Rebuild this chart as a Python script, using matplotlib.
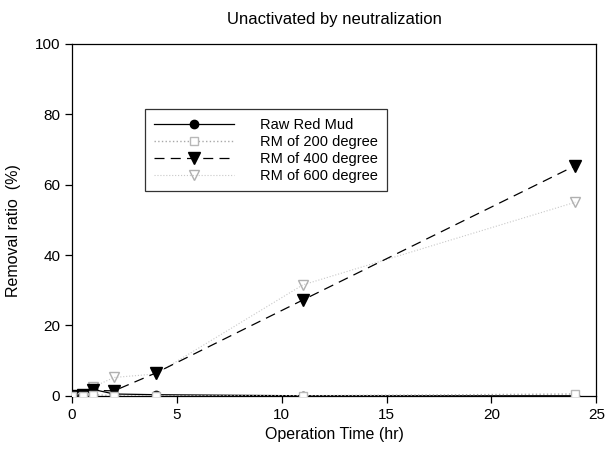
import numpy as np
import matplotlib
matplotlib.use('Agg')
import matplotlib.pyplot as plt

plt.rcParams.update({
    'font.family': 'sans-serif', 'font.sans-serif': ['Liberation Sans', 'DejaVu Sans'],
    'font.size': 10, 'axes.linewidth': 0.9,
})

# ── Removal ratio (%) vs operation time (hr) ──
time_hr = [0, 0.5, 1, 2, 4, 11, 24]
raw_red_mud = [0, 0.2, 1.8, 0.5, 0.3, 0, 0]
rm_200 = [0, 0, 0.3, 0, 0, 0, 0.5]
rm_400 = [0, 0.3, 1.5, 1.4, 6.5, 27.2, 65.4]
rm_600 = [0, 0.2, 2.5, 5.2, 6.2, 31.5, 55.0]

fig = plt.figure(figsize=(6.06, 4.57), dpi=100)
ax = fig.add_axes([0.119, 0.134, 0.865, 0.770])

ax.plot(time_hr, raw_red_mud, '-', color='black', lw=0.9, marker='o', ms=6,
        label='Raw Red Mud', zorder=3)
ax.plot(time_hr, rm_200, ':', color='#a8a8a8', lw=1.0, marker='s', ms=6,
        mfc='white', mec='#b8b8b8', label='RM of 200 degree', zorder=5)
ax.plot(time_hr, rm_400, '--', color='black', lw=0.9, marker='v', ms=8,
        dashes=(8, 5), label='RM of 400 degree', zorder=4)
ax.plot(time_hr, rm_600, ':', color='#c8c8c8', lw=0.8, marker='v', ms=7,
        mfc='none', mec='#b0b0b0', label='RM of 600 degree', zorder=2)

ax.set_xlim(0, 25)
ax.set_ylim(0, 100)
ax.set_xticks([0, 5, 10, 15, 20, 25])
ax.set_yticks([0, 20, 40, 60, 80, 100])
ax.tick_params(direction='out', length=5, width=0.9, labelsize=11, top=False, right=False)
ax.set_xlabel('Operation Time (hr)', fontsize=11.5)
ax.set_ylabel('Removal ratio  (%)', fontsize=11.5)
ax.yaxis.set_label_coords(-0.098, 0.47)
ax.set_title('Unactivated by neutralization', fontsize=12, pad=14)

leg = ax.legend(loc='upper left', bbox_to_anchor=(0.125, 0.835), fontsize=10.5,
                frameon=True, fancybox=False, edgecolor='black', handlelength=5.5,
                borderpad=0.6, labelspacing=0.2, handletextpad=1.8)
leg.get_frame().set_linewidth(0.9)

fig.savefig('out.png', dpi=100, facecolor='white')
